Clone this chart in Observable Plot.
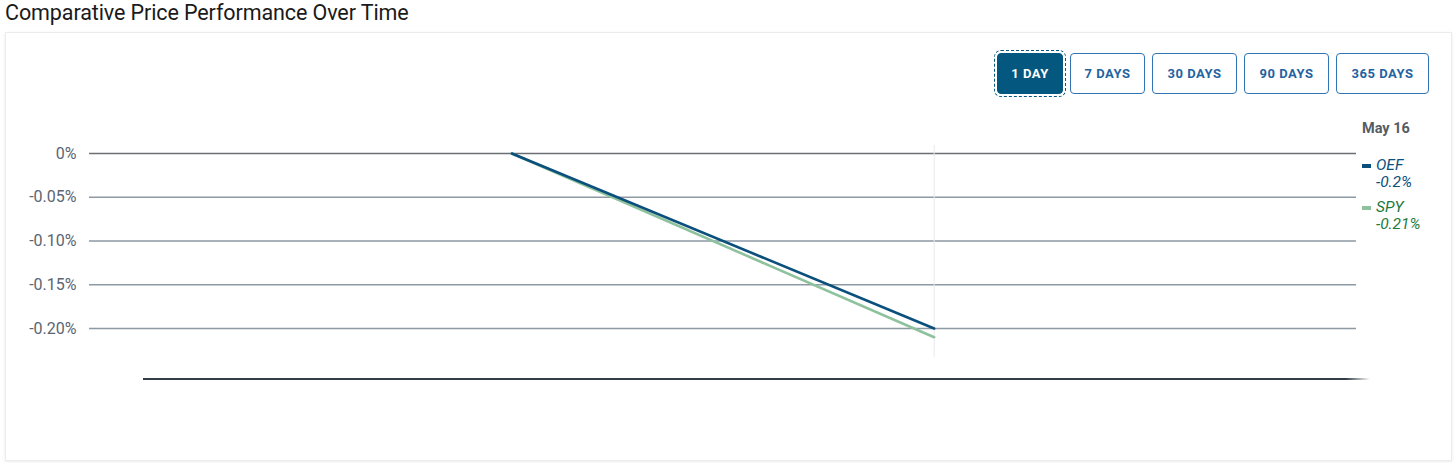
<!DOCTYPE html>
<html><head><meta charset="utf-8">
<script src="https://cdn.jsdelivr.net/npm/d3@7"></script>
<script src="https://cdn.jsdelivr.net/npm/@observablehq/plot@0.6"></script>
<style>
body{margin:0;background:#fff;font-family:Roboto,"Noto Sans",sans-serif;width:1456px;height:463px;overflow:hidden;position:relative}
#title{position:absolute;left:5px;top:0px;font-size:21.5px;color:#1a1a1a;font-family:Roboto,sans-serif;letter-spacing:-0.1px}
#panel{position:absolute;left:5px;top:32px;width:1445px;height:427px;border:1px solid #ececec;box-shadow:0 1px 3px rgba(0,0,0,0.08);background:#fff}
#buttons{position:absolute;top:53px;left:997px;display:flex;gap:7px}
.btn{height:41px;border:1.5px solid #2f74b5;border-radius:4px;color:#1f64a0;font-weight:700;font-size:13px;letter-spacing:0.5px;display:flex;align-items:center;justify-content:center;box-sizing:border-box;background:#fff}
.btn.active{background:#04577f;color:#fff;border-color:#04577f;outline:1px dashed #04577f;outline-offset:2px}
#chart{position:absolute;left:0;top:110px}
#axisline{position:absolute;left:143px;top:378px;width:1227px;height:2px;background:linear-gradient(to right,#333d48 98%,rgba(51,61,72,0))}
#legend{position:absolute;left:1362px;top:120px;font-size:15.5px}
#legend .date{font-weight:700;color:#555c63;margin-bottom:20px;font-size:14.5px}
#legend .item{display:flex;margin-bottom:8px;font-style:italic;line-height:17px}
#legend .sw{width:9px;height:4px;margin-top:7px;margin-right:5px}
</style></head>
<body>
<div id="title"></div>
<div id="panel"></div>
<div id="buttons"></div>
<div id="chart"></div>
<div id="axisline"></div>
<div id="legend"></div>
<script>
const title = "Comparative Price Performance Over Time";
const periodButtons = ["1 DAY","7 DAYS","30 DAYS","90 DAYS","365 DAYS"];
const buttonWidths = [66,75,85,85,93];
const dates = ["2024-05-15","2024-05-16"];
const seriesNames = ["OEF","SPY"];
const oefValues = [0, -0.20];
const spyValues = [0, -0.21];
const seriesColors = ["#0b4f7c","#8dc29c"];
const textColors = ["#0b4f7c","#1b7a3c"];
const yTicks = [0, -0.05, -0.10, -0.15, -0.20];
const yTickLabels = ["0%","-0.05%","-0.10%","-0.15%","-0.20%"];
const lastLabel = "May 16";

document.getElementById("title").textContent = title;
const bwrap = document.getElementById("buttons");
periodButtons.forEach((b,i)=>{
  const el=document.createElement("div");
  el.className="btn"+(i===0?" active":"");
  el.style.width=buttonWidths[i]+"px";
  el.textContent=b;
  bwrap.appendChild(el);
});

const parse = d3.utcParse("%Y-%m-%d");
const rows = [];
[oefValues, spyValues].forEach((vals,si)=>{
  vals.forEach((v,i)=>rows.push({series:seriesNames[si], date:parse(dates[i]), value:v}));
});
// draw SPY first so OEF sits on top
const ordered = rows.slice().sort((a,b)=> (a.series==="SPY"?0:1)-(b.series==="SPY"?0:1));

const chart = Plot.plot({
  width:1456, height:270,
  marginLeft:89, marginRight:100, marginTop:43, marginBottom:8.25,
  x:{type:"utc", domain:[parse("2024-05-14"), parse("2024-05-17")], axis:null},
  y:{domain:[-0.25,0], axis:null, label:null},
  color:{domain:seriesNames, range:seriesColors},
  style:{fontFamily:"Roboto, sans-serif", background:"transparent", overflow:"visible"},
  marks:[
    Plot.ruleY(yTicks, {y:d=>d, stroke:d=>d===0?"#6b6f73":"#8d99a3", strokeWidth:1.6}),
    Plot.axisY(yTicks, {tickSize:0, tickPadding:13, label:null, tickFormat:(d)=>yTickLabels[yTicks.indexOf(d)], fontSize:16, fill:"#5b6570", anchor:"left"}),
    Plot.ruleX([parse(dates[1])], {stroke:"#e6e9ec", strokeWidth:1, insetTop:-8, insetBottom:15}),
    Plot.line(ordered, {x:"date", y:"value", z:"series", stroke:"series", strokeWidth:2.6})
  ]
});
document.getElementById("chart").appendChild(chart);

const lg = document.getElementById("legend");
const dt = document.createElement("div"); dt.className="date"; dt.textContent=lastLabel; lg.appendChild(dt);
const lastVals=[oefValues[oefValues.length-1], spyValues[spyValues.length-1]];
seriesNames.forEach((s,i)=>{
  const it=document.createElement("div"); it.className="item"; it.style.color=textColors[i];
  const sw=document.createElement("div"); sw.className="sw"; sw.style.background=seriesColors[i];
  const tx=document.createElement("div"); tx.innerHTML=s+"<br>"+lastVals[i]+"%";
  it.appendChild(sw); it.appendChild(tx); lg.appendChild(it);
});
</script>
</body></html>
